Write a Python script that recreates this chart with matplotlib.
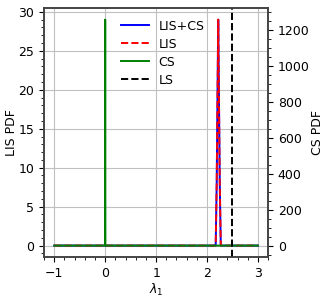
import matplotlib
matplotlib.use('Agg')
import matplotlib.pyplot as plt
from matplotlib.ticker import AutoMinorLocator

plt.rcParams['font.size'] = 9

# LIS / LIS+CS peak near lambda_1 = 2.22 (left axis)
x_lis = [-1.0, 2.17, 2.19, 2.21, 2.22, 2.23, 2.25, 2.27, 3.0]
y_lis = [0.0, 0.0, 8.0, 22.0, 29.0, 22.0, 8.0, 0.0, 0.0]
y_liscs = [0.0, 0.0, 8.0, 22.0, 29.0, 22.0, 8.0, 0.0, 0.0]

# CS spike at lambda_1 = 0 (right axis)
x_cs = [-1.0, -0.004, 0.0, 0.004, 3.0]
y_cs = [0.0, 0.0, 1255.0, 0.0, 0.0]

ls_value = 2.5

fig, ax = plt.subplots(figsize=(3.29, 2.98), dpi=100)
fig.subplots_adjust(left=0.134, right=0.815, top=0.972, bottom=0.138)

l1, = ax.plot(x_lis, y_liscs, color='blue', lw=1.4, label='LIS+CS')
l2, = ax.plot(x_lis, y_lis, color='red', lw=1.4, ls='--', label='LIS')
ax.set_ylabel('LIS PDF', labelpad=0)
ax.set_xlabel(r'$\lambda_1$', labelpad=2)
ax.grid(True, color='#c0c0c0', lw=0.8)
ax.set_xticks([-1, 0, 1, 2, 3])
ax.xaxis.set_minor_locator(AutoMinorLocator())
ax.yaxis.set_minor_locator(AutoMinorLocator())

ax2 = ax.twinx()
l3, = ax2.plot(x_cs, y_cs, color='green', lw=1.4, label='CS')
ax2.set_ylabel('CS PDF', labelpad=1)
ax2.yaxis.set_minor_locator(AutoMinorLocator())
l4 = ax2.axvline(ls_value, color='black', ls='--', lw=1.4, label='LS')

for a in (ax, ax2):
    for s in a.spines.values():
        s.set_color('#444444')
        s.set_linewidth(1.2)

ax.legend(handles=[l1, l2, l3, l4], loc='upper center',
          bbox_to_anchor=(0.53, 1.0), frameon=False, fontsize=9,
          labelspacing=0.4, handlelength=2.2)

fig.savefig('out.png', dpi=100)
